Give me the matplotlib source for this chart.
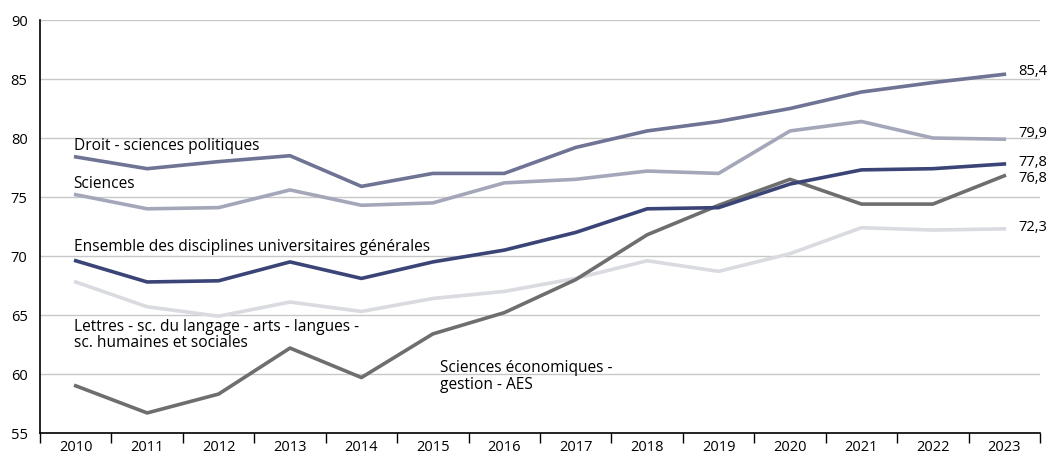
import matplotlib.pyplot as plt
import numpy as np

annees = ["2010", "2011", "2012", "2013", "2014", "2015", "2016",
          "2017", "2018", "2019", "2020", "2021", "2022", "2023"]

droit = [78.4, 77.4, 78.0, 78.5, 75.9, 77.0, 77.0, 79.2, 80.6, 81.4, 82.5, 83.9, 84.7, 85.4]
sciences = [75.2, 74.0, 74.1, 75.6, 74.3, 74.5, 76.2, 76.5, 77.2, 77.0, 80.6, 81.4, 80.0, 79.9]
ensemble = [69.6, 67.8, 67.9, 69.5, 68.1, 69.5, 70.5, 72.0, 74.0, 74.1, 76.1, 77.3, 77.4, 77.8]
lettres = [67.8, 65.7, 64.9, 66.1, 65.3, 66.4, 67.0, 68.1, 69.6, 68.7, 70.2, 72.4, 72.2, 72.3]
eco = [59.0, 56.7, 58.3, 62.2, 59.7, 63.4, 65.2, 68.0, 71.8, 74.3, 76.5, 74.4, 74.4, 76.8]

plt.rcParams["font.family"] = ["Open Sans", "DejaVu Sans"]

fig = plt.figure(figsize=(10.5, 4.57), dpi=100)
ax = fig.add_axes([0.0381, 0.0525, 0.9524, 0.9037])

x = np.arange(len(annees))
lw = 2.6
ax.plot(x, lettres, color="#d9dbe1", lw=lw)
ax.plot(x, sciences, color="#a4a7b9", lw=lw)
ax.plot(x, droit, color="#6f7394", lw=lw)
ax.plot(x, eco, color="#6e6e6e", lw=lw)
ax.plot(x, ensemble, color="#3b4476", lw=lw)

ax.set_xlim(-0.5, len(annees) - 0.5)
ax.set_ylim(55, 90)
ax.set_yticks(range(55, 91, 5))
ax.grid(axis="y", color="#c8c8c8", lw=1)
ax.set_axisbelow(True)

# ticks entre les catégories, libellés au centre
ax.set_xticks(np.arange(-0.5, len(annees)), minor=False)
ax.set_xticklabels([])
ax.set_xticks(x, minor=True)
ax.set_xticklabels(annees, minor=True)
ax.tick_params(axis="x", which="major", length=7, width=1, color="black")
ax.tick_params(axis="x", which="minor", length=0, pad=5, labelsize=10.5)
ax.tick_params(axis="y", length=0, pad=9, labelsize=10.5)

for s in ["top", "right"]:
    ax.spines[s].set_visible(False)
for s in ["left", "bottom"]:
    ax.spines[s].set_color("black")
    ax.spines[s].set_linewidth(1.2)

fs = 11.2
ax.text(-0.03, 79.3, "Droit - sciences politiques", fontsize=fs, va="center")
ax.text(-0.03, 76.1, "Sciences", fontsize=fs, va="center")
ax.text(-0.03, 70.8, "Ensemble des disciplines universitaires générales", fontsize=fs, va="center")
ax.text(-0.03, 63.3, "Lettres - sc. du langage - arts - langues -\nsc. humaines et sociales",
        fontsize=fs, va="center", linespacing=1.05)
ax.text(5.1, 59.8, "Sciences économiques -\ngestion - AES", fontsize=fs, va="center",
        linespacing=1.05)

xr = len(annees) - 1 + 0.2
fr = 10.5
ax.text(xr, 85.6, "85,4", fontsize=fr, va="center")
ax.text(xr, 80.4, "79,9", fontsize=fr, va="center")
ax.text(xr, 77.9, "77,8", fontsize=fr, va="center")
ax.text(xr, 76.6, "76,8", fontsize=fr, va="center")
ax.text(xr, 72.4, "72,3", fontsize=fr, va="center")

fig.savefig("out.png", dpi=100)
